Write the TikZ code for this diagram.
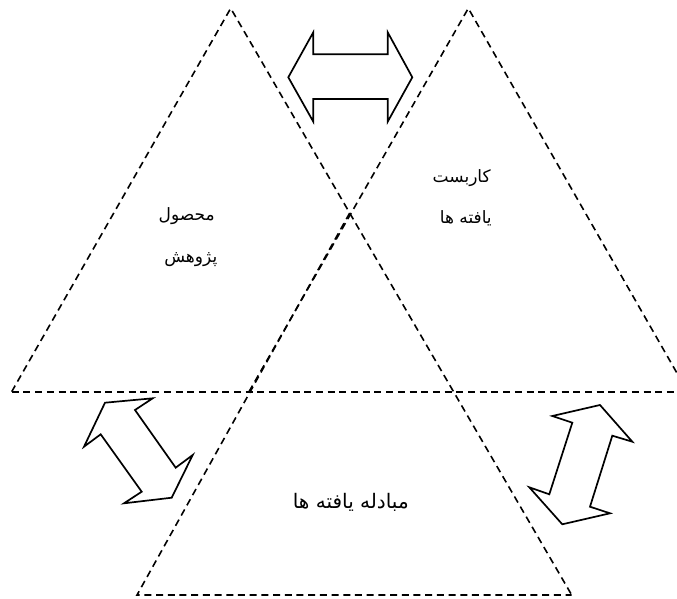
\documentclass[tikz,border=0pt]{standalone}
\usepackage{fontspec}
\newfontfamily\arabicfont[Script=Arabic]{DejaVu Sans}
\TeXXeTstate=1
\tikzset{
  tri/.style={draw=black, line width=1.6pt, dash pattern=on 7pt off 4.7pt},
  bigarrow/.style={draw=black, line width=1.7pt, line join=miter, fill=white},
  lbl/.style={font=\arabicfont\fontsize{17}{20}\selectfont, inner sep=0pt},
  lblbig/.style={font=\arabicfont\fontsize{20}{22}\selectfont, inner sep=0pt}
}
\begin{document}
\begin{tikzpicture}[x=1pt,y=-1pt]
\useasboundingbox (0,0) rectangle (677,599);
\clip (0,0) rectangle (677,599);
% key points
\coordinate (A1) at (230.7,8.3);
\coordinate (L1) at (11.7,391.7);
\coordinate (A2) at (468.3,8.3);
\coordinate (L2) at (249,391.7);
\coordinate (R2) at (687.6,391.7);
\coordinate (A3) at (349.7,213);
\coordinate (L3) at (137,595);
\coordinate (R3) at (571.7,595);
\coordinate (BL) at (11.7,391.7);
\coordinate (BR) at (680,391.7);
% triangles
\draw[tri] (L1) -- (A1) -- (R3);
\draw[tri] (L2) -- (A2) -- (R2);
\draw[tri] (A3) -- (L3) -- (R3);
\draw[tri] (BL) -- (BR);
% top double arrow
\draw[bigarrow] (288.3,77.3) -- (313.3,32.3) -- (313.3,54.3) -- (387.7,54.3) -- (387.7,32.3)
  -- (412.3,77.3) -- (387.7,121.7) -- (387.7,99) -- (313.3,99) -- (313.3,121.7) -- cycle;
% left double arrow
\draw[bigarrow] (105,402.7) -- (152.7,398.3) -- (135,410) -- (175.7,467.7) -- (192.7,455)
  -- (171.7,497.7) -- (124,503.3) -- (141.7,491.7) -- (100.7,434.3) -- (84,446.7) -- cycle;
% right double arrow
\draw[bigarrow] (600,405) -- (632.3,441.7) -- (612.3,435.7) -- (590,506.7) -- (610,513.3)
  -- (562.3,524.3) -- (529.3,487.3) -- (549.3,494.3) -- (572.3,422.7) -- (552.3,416) -- cycle;
% labels
\node[lbl] (t1a) at (186.7,216) {\beginR محصول\endR};
\node[lbl] (t1b) at (190.8,260) {\beginR پژوهش\endR};
\node[lbl] (t2a) at (461.7,178) {\beginR کاربست\endR};
\node[lbl] (t2b) at (465.8,218) {\beginR یافته ها\endR};
\node[lblbig] (t3) at (350.8,502) {\beginR مبادله یافته ها\endR};
\end{tikzpicture}
\end{document}
